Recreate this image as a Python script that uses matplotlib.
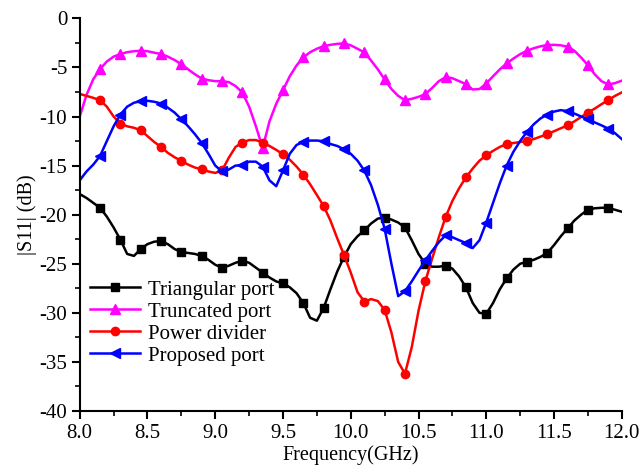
import matplotlib
matplotlib.use('Agg')
import matplotlib.pyplot as plt
from matplotlib.ticker import MultipleLocator, FormatStrFormatter

# ---------------------------------------------------
# frequency grid (GHz), 0.05 step

freq = [8.00, 8.05, 8.10, 8.15, 8.20, 8.25, 8.30, 8.35, 8.40, 8.45,
        8.50, 8.55, 8.60, 8.65, 8.70, 8.75, 8.80, 8.85, 8.90, 8.95,
        9.00, 9.05, 9.10, 9.15, 9.20, 9.25, 9.30, 9.35, 9.40, 9.45,
        9.50, 9.55, 9.60, 9.65, 9.70, 9.75, 9.80, 9.85, 9.90, 9.95,
        10.00, 10.05, 10.10, 10.15, 10.20, 10.25, 10.30, 10.35, 10.40, 10.45,
        10.50, 10.55, 10.60, 10.65, 10.70, 10.75, 10.80, 10.85, 10.90, 10.95,
        11.00, 11.05, 11.10, 11.15, 11.20, 11.25, 11.30, 11.35, 11.40, 11.45,
        11.50, 11.55, 11.60, 11.65, 11.70, 11.75, 11.80, 11.85, 11.90, 11.95,
        12.00]

triangular = [-17.9, -18.3, -18.8, -19.3, -20.2, -21.3, -22.55, -24.0, -24.2, -23.5,
              -23.0, -22.75, -22.7, -23.0, -23.5, -23.8, -23.9, -24.0, -24.2, -24.6,
              -25.1, -25.4, -25.2, -24.9, -24.7, -24.9, -25.4, -25.9, -26.4, -26.8,
              -27.0, -27.4, -28.0, -29.0, -30.5, -30.8, -29.5, -27.6, -25.8, -24.3,
              -23.0, -22.2, -21.6, -20.9, -20.4, -20.3, -20.5, -20.8, -21.3, -22.6,
              -24.0, -25.0, -25.3, -25.3, -25.2, -25.5, -26.3, -27.4, -29.0, -30.0,
              -30.1, -29.0, -27.6, -26.5, -25.6, -25.0, -24.8, -24.6, -24.3, -23.9,
              -23.1, -22.2, -21.4, -20.6, -20.0, -19.5, -19.35, -19.3, -19.3, -19.5,
              -19.7]

truncated = [-10.0, -7.8, -6.2, -5.17, -4.4, -3.9, -3.64, -3.45, -3.35, -3.30,
             -3.35, -3.5, -3.64, -3.9, -4.25, -4.66, -5.2, -5.7, -6.13, -6.3,
             -6.4, -6.4, -6.5, -6.9, -7.55, -9.0, -11.0, -13.2, -10.5, -8.7,
             -7.32, -5.9, -4.8, -3.98, -3.45, -3.1, -2.83, -2.7, -2.6, -2.55,
             -2.75, -3.1, -3.47, -4.3, -5.2, -6.23, -7.2, -7.9, -8.34, -8.2,
             -8.0, -7.72, -7.1, -6.4, -6.0, -6.1, -6.4, -6.7, -7.25, -7.2,
             -6.64, -5.9, -5.2, -4.6, -4.1, -3.65, -3.30, -3.05, -2.85, -2.72,
             -2.7, -2.75, -2.89, -3.3, -4.0, -4.77, -5.7, -6.4, -6.74, -6.6,
             -6.35]

divider = [-7.7, -7.9, -8.1, -8.34, -9.0, -10.0, -10.72, -11.0, -11.15, -11.4,
           -12.0, -12.6, -13.1, -13.7, -14.15, -14.53, -14.9, -15.2, -15.38, -15.6,
           -15.75, -15.5, -14.2, -13.1, -12.65, -12.4, -12.4, -12.65, -13.0, -13.4,
           -13.85, -14.4, -15.1, -15.92, -16.9, -18.0, -19.12, -20.6, -22.4, -24.1,
           -25.9, -27.9, -28.85, -28.6, -28.8, -29.7, -32.0, -35.0, -36.2, -33.5,
           -29.8, -26.8, -24.5, -22.3, -20.24, -18.6, -17.3, -16.2, -15.3, -14.5,
           -13.96, -13.5, -13.1, -12.8, -12.7, -12.6, -12.5, -12.3, -12.05, -11.8,
           -11.5, -11.2, -10.9, -10.5, -10.05, -9.6, -9.2, -8.75, -8.34, -7.9,
           -7.55]

proposed = [-16.5, -15.6, -14.9, -14.02, -12.5, -11.0, -9.8, -9.0, -8.6, -8.44,
            -8.4, -8.5, -8.68, -9.1, -9.6, -10.28, -11.0, -11.8, -12.69, -13.8,
            -15.0, -15.6, -15.4, -15.0, -14.97, -14.6, -14.6, -15.1, -16.5, -17.1,
            -15.5, -13.8, -12.9, -12.59, -12.45, -12.45, -12.52, -12.8, -13.0, -13.34,
            -13.8, -14.5, -15.5, -17.0, -19.0, -21.43, -25.0, -28.3, -27.8, -26.8,
            -25.7, -24.66, -23.7, -22.8, -22.11, -22.3, -22.6, -22.89, -23.4, -22.6,
            -20.8, -18.8, -16.8, -15.0, -13.6, -12.5, -11.57, -10.8, -10.2, -9.8,
            -9.5, -9.35, -9.46, -9.7, -10.0, -10.28, -10.6, -10.9, -11.23, -11.7,
            -12.3]

labels = ['Triangular port', 'Truncated port', 'Power divider', 'Proposed port']

# ---------------------------------------------------

plt.rcParams['font.family'] = ['Liberation Serif', 'DejaVu Serif']
plt.rcParams['font.size'] = 15
plt.rcParams['axes.unicode_minus'] = False

fig = plt.figure(figsize=(6.43, 4.70), dpi=100)
ax = fig.add_axes([0.124, 0.1255, 0.843, 0.8355])

ax.plot(freq, triangular, 'ks-', linewidth=1.8, markersize=6, markevery=(3, 3), label=labels[0])
ax.plot(freq, truncated, '^-', color='#ff00ff', linewidth=1.8, markersize=6.5, markevery=(3, 3), label=labels[1])
ax.plot(freq, divider, 'o-', color='#ff0000', linewidth=1.8, markersize=6, markevery=(3, 3), label=labels[2])
ax.plot(freq, proposed, '<-', color='#0000ff', linewidth=1.8, markersize=6.5, markevery=(3, 3), label=labels[3])

ax.set_xlim(8.0, 12.0)
ax.set_ylim(-40, 0)
ax.xaxis.set_major_locator(MultipleLocator(0.5))
ax.xaxis.set_minor_locator(MultipleLocator(0.25))
ax.xaxis.set_major_formatter(FormatStrFormatter('%.1f'))
ax.yaxis.set_major_locator(MultipleLocator(5))
ax.yaxis.set_minor_locator(MultipleLocator(2.5))

ax.spines['top'].set_visible(False)
ax.spines['right'].set_visible(False)
ax.spines['left'].set_linewidth(1.5)
ax.spines['bottom'].set_linewidth(1.5)
ax.tick_params(which='major', direction='out', length=6, width=1.5, labelsize=15, pad=3)
ax.tick_params(which='minor', direction='out', length=3.5, width=1.2)

ax.set_xlabel('Frequency(GHz)', fontsize=14.5, labelpad=2)
ax.set_ylabel('|S11| (dB)', fontsize=14.5, labelpad=2)

ax.legend(loc='lower left', bbox_to_anchor=(0.004, 0.094), frameon=False, fontsize=15,
          handlelength=2.4, handletextpad=0.35, labelspacing=0.12, borderaxespad=0.0)

fig.savefig('out.png', dpi=100)
